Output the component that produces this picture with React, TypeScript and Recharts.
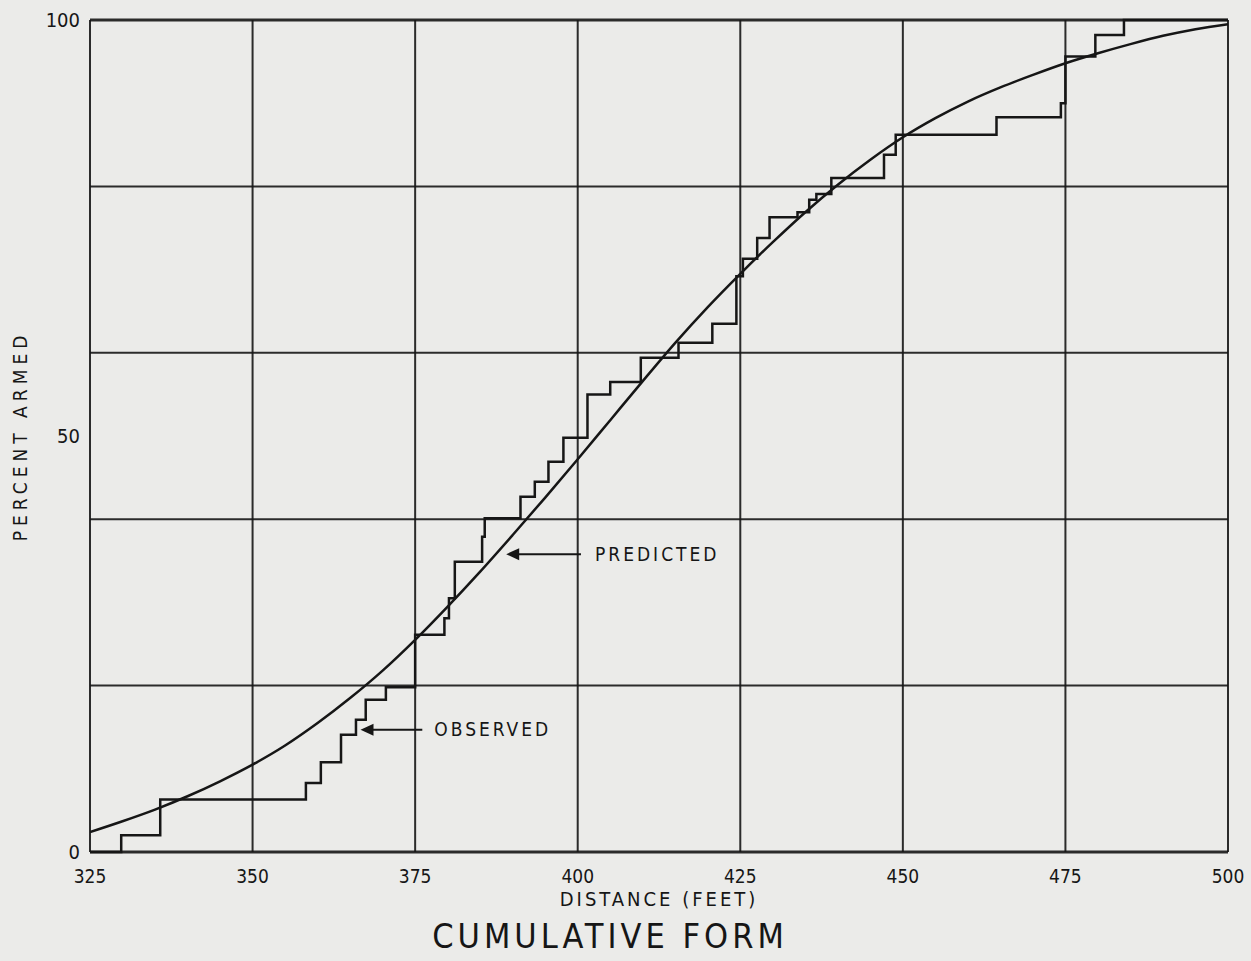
import React from 'react';
import {
  LineChart,
  Line,
  XAxis,
  YAxis,
  CartesianGrid,
  ReferenceLine,
  ReferenceDot,
} from 'recharts';

// axis ticks
const DIST_TICKS = [325, 350, 375, 400, 425, 450, 475, 500];
const PCT_TICKS = [0, 50, 100];
const GRID_PCT = [0, 20, 40, 60, 80, 100];

// predicted (smooth) curve
const PRED_DIST = [
  325, 330, 335, 340, 345, 350, 355, 360, 365, 370, 375, 380, 385, 390, 395, 400, 405, 410,
  415, 420, 425, 430, 435, 440, 445, 450, 455, 460, 465, 470, 475, 480, 485, 490, 495, 500,
];
const PRED_PCT = [
  2.4, 3.7, 5.1, 6.7, 8.5, 10.5, 12.8, 15.5, 18.5, 21.8, 25.5, 29.5, 33.7, 38.1, 42.6, 47.2,
  51.9, 56.6, 61.2, 65.5, 69.5, 73.3, 76.9, 80.2, 83.2, 85.9, 88.2, 90.2, 91.9, 93.4, 94.8,
  96.0, 97.1, 98.1, 98.9, 99.5,
];

// observed step function (value after each step)
const OBS_DIST = [
  325, 329.8, 335.8, 358.2, 360.5, 363.6, 365.9, 367.4, 370.5, 375, 379.5, 380.2, 381.1,
  385.3, 385.7, 391.2, 393.4, 395.5, 397.8, 401.5, 405, 409.7, 415.5, 420.7, 424.4, 425.4,
  427.6, 429.5, 433.8, 435.6, 436.7, 439, 447.1, 448.9, 464.4, 474.3, 475, 479.6, 484, 500,
];
const OBS_PCT = [
  0, 2, 6.3, 8.3, 10.8, 14.1, 15.9, 18.3, 19.8, 26.1, 28.1, 30.5, 34.9, 37.9, 40.1, 42.7,
  44.5, 46.9, 49.8, 55, 56.5, 59.4, 61.2, 63.5, 69.2, 71.3, 73.8, 76.3, 76.9, 78.4, 79.1, 81,
  83.8, 86.2, 88.3, 90, 95.6, 98.2, 100, 100,
];

const INK = '#161616';
const FONT = '"DejaVu Sans Condensed", "DejaVu Sans", sans-serif';

const predicted = PRED_DIST.map((d, i) => ({ dist: d, pct: PRED_PCT[i] }));
const observed = OBS_DIST.map((d, i) => ({ dist: d, pct: OBS_PCT[i] }));

const ArrowHead = (props: any) => {
  const { cx, cy } = props;
  if (cx == null || cy == null) return null;
  return <path d={`M${cx},${cy} L${cx + 13},${cy - 6} L${cx + 13},${cy + 6} Z`} fill={INK} />;
};

export default function App() {
  return (
    <div
      style={{
        position: 'fixed',
        left: 0,
        top: 0,
        width: 1251,
        height: 961,
        background: '#ebebe9',
        fontFamily: FONT,
      }}
    >
      <LineChart
        width={1251}
        height={961}
        margin={{ top: 20, right: 23, left: 0, bottom: 79 }}
      >
        <CartesianGrid horizontal={false} stroke={INK} strokeWidth={2} strokeOpacity={0.9} />
        {GRID_PCT.map((p) => (
          <ReferenceLine
            key={p}
            y={p}
            stroke={INK}
            strokeWidth={p === 0 || p === 100 ? 3 : 2}
            strokeOpacity={0.9}
          />
        ))}
        <XAxis
          dataKey="dist"
          type="number"
          domain={[325, 500]}
          ticks={DIST_TICKS}
          allowDataOverflow
          axisLine={false}
          tickLine={false}
          tickMargin={12}
          height={30}
          tick={{ fill: INK, fontSize: 19, fontFamily: FONT }}
          label={{
            value: 'DISTANCE (FEET)',
            position: 'bottom',
            offset: 10,
            fill: INK,
            fontSize: 20,
            fontFamily: FONT,
            letterSpacing: 3,
          }}
        />
        <YAxis
          type="number"
          domain={[0, 100]}
          ticks={PCT_TICKS}
          axisLine={false}
          tickLine={false}
          tickMargin={4}
          width={90}
          tick={{ fill: INK, fontSize: 20, fontFamily: FONT }}
          label={{
            value: 'PERCENT ARMED',
            angle: -90,
            position: 'insideLeft',
            offset: 20,
            fill: INK,
            fontSize: 19,
            fontFamily: FONT,
            letterSpacing: 5,
            style: { textAnchor: 'middle' },
          }}
        />
        <Line
          data={observed}
          dataKey="pct"
          type="stepAfter"
          stroke={INK}
          strokeWidth={2.5}
          dot={false}
          isAnimationActive={false}
        />
        <Line
          data={predicted}
          dataKey="pct"
          type="monotone"
          stroke={INK}
          strokeWidth={2.5}
          dot={false}
          isAnimationActive={false}
        />
        <ReferenceLine
          segment={[
            { x: 390, y: 35.8 },
            { x: 400.5, y: 35.8 },
          ]}
          stroke={INK}
          strokeWidth={2}
          label={{
            value: 'PREDICTED',
            position: 'right',
            offset: 14,
            fill: INK,
            fontSize: 19,
            fontFamily: FONT,
            letterSpacing: 3,
          }}
        />
        <ReferenceDot x={389} y={35.8} shape={ArrowHead} />
        <ReferenceLine
          segment={[
            { x: 367.5, y: 14.7 },
            { x: 376.1, y: 14.7 },
          ]}
          stroke={INK}
          strokeWidth={2}
          label={{
            value: 'OBSERVED',
            position: 'right',
            offset: 12,
            fill: INK,
            fontSize: 19,
            fontFamily: FONT,
            letterSpacing: 3,
          }}
        />
        <ReferenceDot x={366.6} y={14.7} shape={ArrowHead} />
      </LineChart>
      <div
        style={{
          position: 'absolute',
          left: 0,
          width: 1220,
          top: 916,
          textAlign: 'center',
          fontSize: 34,
          color: INK,
          letterSpacing: 4,
          fontFamily: FONT,
        }}
      >
        CUMULATIVE FORM
      </div>
    </div>
  );
}
